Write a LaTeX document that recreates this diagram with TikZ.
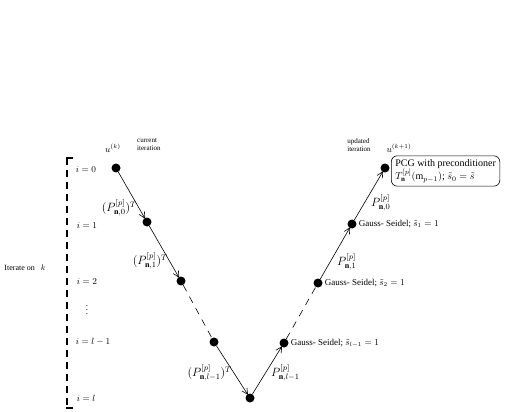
\documentclass[tikz,border=0pt]{standalone}
\usepackage{amsmath,amssymb}
\usepackage{fontspec}
\setmainfont{Liberation Serif}
\usetikzlibrary{arrows.meta,positioning}
\tikzset{
  vc-dot/.style={circle, fill=black, inner sep=0pt, minimum size=9pt},
  vc-step/.style={-{Straight Barb[length=6pt,width=6pt]}, line width=0.6pt, shorten >=-1pt},
  vc-skip/.style={line width=0.6pt, dash pattern=on 7pt off 6pt},
  vc-label/.style={font=\small, inner sep=1pt},
  vc-op/.style={font=\large, inner sep=1pt},
  vc-note/.style={font=\scriptsize, align=left, inner sep=1pt},
  vc-level/.style={font=\small, inner sep=1pt}
}

\begin{document}
\begin{tikzpicture}[x=1pt, y=-1pt]
  \useasboundingbox (0,0) rectangle (507,412);

  % Grid points of the cycle
  \node[vc-dot] (l0) at (116,168) {};
  \node[vc-dot] (l1) at (147,222) {};
  \node[vc-dot] (l2) at (181,281) {};
  \node[vc-dot] (l3) at (214,342) {};
  \node[vc-dot] (bot) at (250,398) {};
  \node[vc-dot] (r3) at (284,343) {};
  \node[vc-dot] (r2) at (318,283) {};
  \node[vc-dot] (r1) at (352,224) {};
  \node[vc-dot] (r0) at (385,168) {};

  % --- Restriction (down) ---
  \draw[vc-step] (l0) -- (l1);
  \draw[vc-step] (l1) -- (l2);
  \draw[vc-skip] (l2) -- (l3);
  \draw[vc-step] (l3) -- (bot);
  \node[vc-op, anchor=east] (t0) at (138,208) {$(P^{[p]}_{\mathbf{n},0})^T$};
  \node[vc-op, anchor=east] (t1) at (169,261) {$(P^{[p]}_{\mathbf{n},1})^T$};
  \node[vc-op, anchor=east] (t3) at (233,373) {$(P^{[p]}_{\mathbf{n},l-1})^T$};

  % --- Prolongation (up) ---
  \draw[vc-step] (bot) -- (r3);
  \draw[vc-skip] (r3) -- (r2);
  \draw[vc-step] (r2) -- (r1);
  \draw[vc-step] (r1) -- (r0);
  \node[vc-op, anchor=west] (p3) at (270,373) {$P^{[p]}_{\mathbf{n},l-1}$};
  \node[vc-op, anchor=west] (p1) at (336,262) {$P^{[p]}_{\mathbf{n},1}$};
  \node[vc-op, anchor=west] (p0) at (370,203) {$P^{[p]}_{\mathbf{n},0}$};

  % Smoothers
  \node[vc-label, anchor=west] (s1) at ([xshift=1pt]r1.east) {Gauss- Seidel; $\tilde{s}_1 = 1$};
  \node[vc-label, anchor=west] (s2) at ([xshift=1pt]r2.east) {Gauss- Seidel; $\tilde{s}_2 = 1$};
  \node[vc-label, anchor=west] (s3) at ([xshift=1pt]r3.east) {Gauss- Seidel; $\tilde{s}_{l-1} = 1$};
  \node[draw, rounded corners=6pt, line width=0.6pt, font=\normalsize, align=left,
        inner xsep=4pt, inner ysep=3.5pt, anchor=west] (pcg) at (391,171)
        {PCG with preconditioner\\$T^{[p]}_{\mathbf{n}}(\mathrm{m}_{p-1})$; $\tilde{s}_0 = \tilde{s}$};

  % Iterates
  \node[vc-label] (uk) at (113,148) {$u^{(k)}$};
  \node[vc-note, anchor=west] (cur) at (136,145) {current\\iteration};
  \node[vc-note] (upd) at (359,145) {updated\\iteration};
  \node[vc-label] (uk1) at (399,148) {$u^{(k+1)}$};

  % Levels
  \node[vc-level] (i0) at (86,170) {$i = 0$};
  \node[vc-level] (i1) at (87,226) {$i = 1$};
  \node[vc-level] (i2) at (87,282) {$i = 2$};
  \node[vc-level] (idots) at (87,307) {$\vdots$};
  \node[vc-level] (il1) at (93,342) {$i = l-1$};
  \node[vc-level] (il) at (86,398) {$i = l$};
  \draw[line width=1.4pt, dash pattern=on 7pt off 5pt] (67,158) -- (67,408);
  \draw[line width=1.4pt] (66.3,158) -- (73,158);
  \draw[line width=1.4pt] (66.3,408) -- (73,408);
  \node[font=\footnotesize, inner sep=1pt] (iter) at (25,268) {Iterate on \enspace$k$};
\end{tikzpicture}
\end{document}
